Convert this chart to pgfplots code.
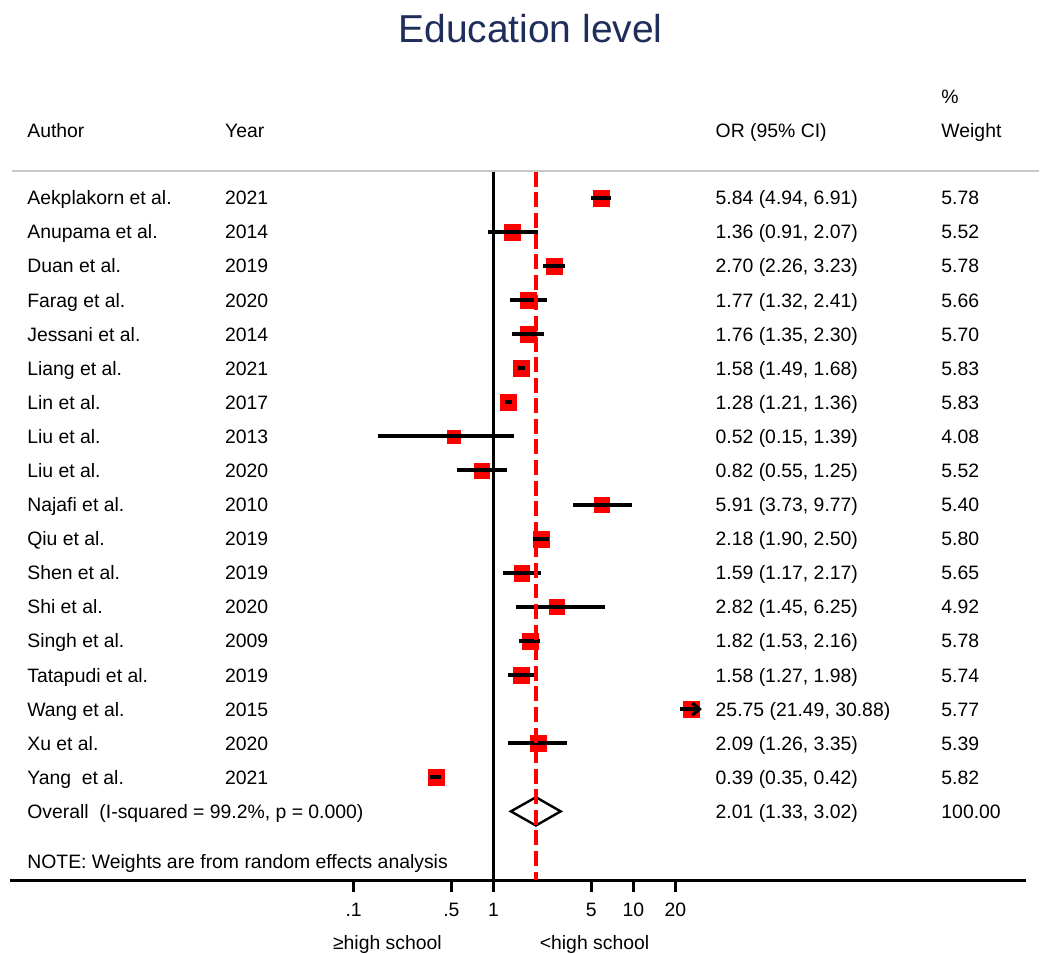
\documentclass[border=0pt]{standalone}
\usepackage{pgfplots}
\pgfplotsset{compat=1.18}
\usepackage{pgfplotstable}
\usepackage{fontspec}
\setmainfont{Liberation Sans}
\usetikzlibrary{arrows.meta}

\definecolor{titlenavy}{RGB}{30,45,90}
\definecolor{rulegrey}{RGB}{200,200,200}

\newcommand{\bodyfont}{\fontsize{9.7}{11.6}\selectfont}

% Study-level odds ratios, 95% CI and random-effects weights
\pgfplotstableread{
row or    lo    hi    w
1   5.84  4.94  6.91  5.78
2   1.36  0.91  2.07  5.52
3   2.70  2.26  3.23  5.78
4   1.77  1.32  2.41  5.66
5   1.76  1.35  2.30  5.70
6   1.58  1.49  1.68  5.83
7   1.28  1.21  1.36  5.83
8   0.52  0.15  1.39  4.08
9   0.82  0.55  1.25  5.52
10  5.91  3.73  9.77  5.40
11  2.18  1.90  2.50  5.80
12  1.59  1.17  2.17  5.65
13  2.82  1.45  6.25  4.92
14  1.82  1.53  2.16  5.78
15  1.58  1.27  1.98  5.74
16  25.75 21.49 30.88 5.77
17  2.09  1.26  3.35  5.39
18  0.39  0.35  0.42  5.82
}\studies

\tikzset{
  cell/.style={anchor=base west, inner sep=0pt, font=\bodyfont, yshift=-3.5pt},
}

% one text line of the table: row, author, year, OR (95% CI), weight
\newcommand{\study}[5]{%
  \node[cell] at ({axis description cs:0.0167,0} |- {axis cs:1,#1}) {#2};
  \node[cell] at ({axis description cs:0.2114,0} |- {axis cs:1,#1}) {#3};
  \node[cell] at ({axis description cs:0.6942,0} |- {axis cs:1,#1}) {#4};
  \node[cell] at ({axis description cs:0.9164,0} |- {axis cs:1,#1}) {#5};
}

\begin{document}
\begin{tikzpicture}
\begin{axis}[
  scale only axis, width=508.5pt, height=440.5pt,
  xmode=log, xmin=3.491e-4, xmax=6412,
  ymin=-4.803, ymax=21.018, y dir=reverse,
  axis x line*=bottom, axis y line=none,
  x axis line style={-, line width=1.5pt},
  xtick={0.1,0.5,1,5,10,20}, xticklabels={.1,.5,1,5,10,20},
  minor xtick={}, ytick=\empty,
  xtick align=outside, major tick length=6pt,
  every tick/.style={black, line width=1.5pt},
  xticklabel style={font=\bodyfont, yshift=-2pt},
  clip=false, clip marker paths=true,
]
% fixed page extent
\path (axis description cs:-0.00983,-0.08286) rectangle (axis description cs:1.01278,1);

% title and column headers
\node[anchor=base, inner sep=0pt, font=\fontsize{19.5}{23}\selectfont, text=titlenavy]
  at ({axis description cs:0.5123,0} |- {axis cs:1,-3.543}) {Education level};
\node[cell] at ({axis description cs:0.9164,0} |- {axis cs:1,-1.96}) {\%};
\study{-0.96}{Author}{Year}{OR (95\% CI)}{Weight}

% header rule
\draw[rulegrey, line width=1pt] ({axis description cs:0.002,0} |- {axis cs:1,0.21})
  -- ({axis description cs:1.0128,0} |- {axis cs:1,0.21});

% line of no effect
\addplot[black, line width=1.3pt] coordinates {(1,0.24) (1,21.018)};

% study weights as squares
\addplot[scatter, only marks, mark=square*, color=red,
  point meta=\thisrow{w},
  scatter/use mapped color={draw=red, fill=red},
  mark options={line width=0.1pt},
  visualization depends on={\thisrow{w} \as \wt},
  scatter/@pre marker code/.append style={/tikz/mark size={4pt*sqrt(\wt/5.78)}},
] table[x=or, y=row] {\studies};

% confidence intervals
\addplot[draw=none, mark=none,
  y filter/.expression={y==16 ? nan : y},
  error bars/.cd, x dir=both, x explicit, error mark=none,
  error bar style={black, line width=2pt},
] table[x=or, y=row,
  x error plus expr=\thisrow{hi}-\thisrow{or},
  x error minus expr=\thisrow{or}-\thisrow{lo}] {\studies};

% interval running past the plotted range
\addplot[black, line width=2pt, -{Straight Barb[length=3.5pt, width=6pt, line width=1.6pt]}]
  coordinates {(21.49,16) (30.88,16)};

% pooled estimate
\addplot[black, line width=1.2pt] coordinates {(1.33,19) (2.01,18.585) (3.02,19) (2.01,19.415)} --cycle;
\addplot[red, line width=1.8pt, dash pattern=on 7.5pt off 2.8pt] coordinates {(2.01,0.24) (2.01,21.018)};

% study rows
\study{1}{Aekplakorn et al.}{2021}{5.84 (4.94, 6.91)}{5.78}
\study{2}{Anupama et al.}{2014}{1.36 (0.91, 2.07)}{5.52}
\study{3}{Duan et al.}{2019}{2.70 (2.26, 3.23)}{5.78}
\study{4}{Farag et al.}{2020}{1.77 (1.32, 2.41)}{5.66}
\study{5}{Jessani et al.}{2014}{1.76 (1.35, 2.30)}{5.70}
\study{6}{Liang et al.}{2021}{1.58 (1.49, 1.68)}{5.83}
\study{7}{Lin et al.}{2017}{1.28 (1.21, 1.36)}{5.83}
\study{8}{Liu et al.}{2013}{0.52 (0.15, 1.39)}{4.08}
\study{9}{Liu et al.}{2020}{0.82 (0.55, 1.25)}{5.52}
\study{10}{Najafi et al.}{2010}{5.91 (3.73, 9.77)}{5.40}
\study{11}{Qiu et al.}{2019}{2.18 (1.90, 2.50)}{5.80}
\study{12}{Shen et al.}{2019}{1.59 (1.17, 2.17)}{5.65}
\study{13}{Shi et al.}{2020}{2.82 (1.45, 6.25)}{4.92}
\study{14}{Singh et al.}{2009}{1.82 (1.53, 2.16)}{5.78}
\study{15}{Tatapudi et al.}{2019}{1.58 (1.27, 1.98)}{5.74}
\study{16}{Wang et al.}{2015}{25.75 (21.49, 30.88)}{5.77}
\study{17}{Xu et al.}{2020}{2.09 (1.26, 3.35)}{5.39}
\study{18}{Yang~ et al.}{2021}{0.39 (0.35, 0.42)}{5.82}
\study{19}{Overall~ (I-squared = 99.2\%, p = 0.000)}{}{2.01 (1.33, 3.02)}{100.00}

\node[cell] at ({axis description cs:0.0167,0} |- {axis cs:1,20.46}) {NOTE: Weights are from random effects analysis};

% direction labels under the scale
\node[cell] at ({axis description cs:0.3176,0} |- {axis cs:1,22.84}) {≥high school};
\node[cell] at ({axis description cs:0.5211,0} |- {axis cs:1,22.84}) {<high school};
\end{axis}
\end{tikzpicture}
\end{document}
